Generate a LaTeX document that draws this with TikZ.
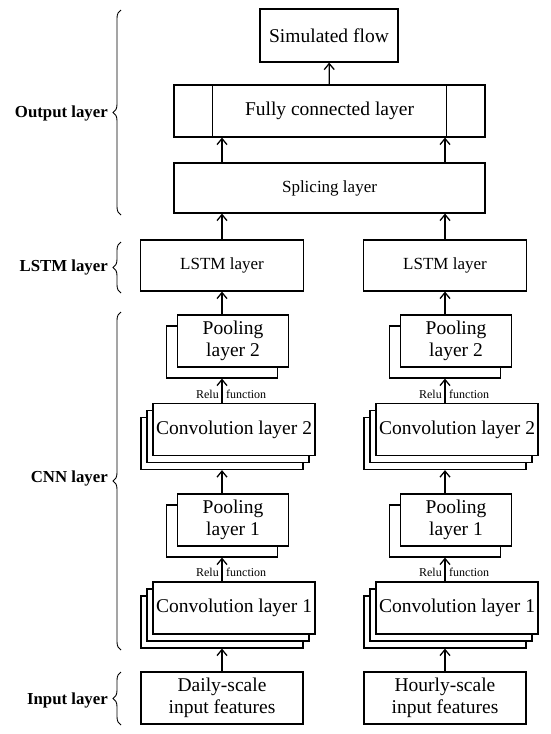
\documentclass[tikz,border=0pt]{standalone}
\usepackage{fontspec}
\setmainfont{Liberation Serif}
\usetikzlibrary{arrows.meta,positioning,calc,decorations.pathreplacing}

\begin{document}
\begin{tikzpicture}[x=1pt,y=-1pt,>={Straight Barb[length=6pt,width=10pt]}]
\tikzstyle{blk}=[draw,line width=1.2pt,fill=white,inner sep=0pt,align=center,font=\fontsize{19.5}{22}\selectfont]
\tikzstyle{wide}=[minimum width=162,minimum height=52]
\tikzstyle{pool}=[minimum width=111,minimum height=52]
\tikzstyle{arr}=[->,line width=1.3pt]
\tikzstyle{tag}=[anchor=east,inner sep=0pt,font=\fontsize{16.8}{18}\selectfont\bfseries]
\tikzstyle{relu}=[inner sep=0pt,font=\fontsize{12}{14}\selectfont]
\tikzstyle{brc}=[decorate,decoration={brace,amplitude=8pt},line width=0.9pt]
\useasboundingbox (0,0) rectangle (550,734);

% output part
\node[blk,minimum width=138,minimum height=53] (sim) at (329,35.5) {Simulated flow};
\node[blk,minimum width=311,minimum height=52] (fc) at (329.5,111) {Fully connected layer};
\draw[line width=1.2pt] ([xshift=39]fc.north west) -- ([xshift=39]fc.south west)
    ([xshift=-39]fc.north east) -- ([xshift=-39]fc.south east);
\node[blk,minimum width=311,minimum height=50,font=\fontsize{17}{20}\selectfont] (sp) at (329.5,188) {Splicing layer};
\draw[arr] (fc) -- (sim);

% the two branches
\foreach \c/\dx/\txt in {L/0/Daily-scale,R/223/Hourly-scale}{
    \node[blk,wide] (in\c) at (222+\dx,698) {\txt\\input features};
    % convolution 1
    \node[blk,wide] (c1b\c) at (222+\dx,622) {};
    \node[blk,wide] (c1m\c) at (228+\dx,615) {};
    \node[blk,wide] (c1\c) at (234+\dx,608) {Convolution layer 1};
    % pooling 1
    \node[blk,pool] (p1b\c) at (222+\dx,531) {};
    \node[blk,pool] (p1\c) at (233+\dx,520) {Pooling\\layer 1};
    % convolution 2
    \node[blk,wide] (c2b\c) at (222+\dx,443.5) {};
    \node[blk,wide] (c2m\c) at (228+\dx,436.5) {};
    \node[blk,wide] (c2\c) at (234+\dx,429.5) {Convolution layer 2};
    % pooling 2
    \node[blk,pool] (p2b\c) at (222+\dx,352) {};
    \node[blk,pool] (p2\c) at (233+\dx,341) {Pooling\\layer 2};
    % lstm
    \node[blk,minimum width=163,minimum height=51,font=\fontsize{17}{20}\selectfont] (ls\c) at (222+\dx,265.5) {LSTM layer};
    % relu labels
    \node[relu,anchor=east] (r1a\c) at (219+\dx,572) {Relu};
    \node[relu,anchor=west] (r1b\c) at (226+\dx,572) {function};
    \node[relu,anchor=east] (r2a\c) at (219+\dx,394) {Relu};
    \node[relu,anchor=west] (r2b\c) at (226+\dx,394) {function};
    % arrows
    \draw[arr] (in\c) -- (c1b\c);
    \draw[arr] (c1\c.north -| p1b\c) -- (p1b\c);
    \draw[arr] (p1\c.north -| c2b\c) -- (c2b\c);
    \draw[arr] (c2\c.north -| p2b\c) -- (p2b\c);
    \draw[arr] (p2\c.north -| ls\c) -- (ls\c);
    \draw[arr] (ls\c) -- (ls\c |- sp.south);
    \draw[arr] (sp.north -| ls\c) -- (fc.south -| ls\c);
}

% braces and layer names
\draw[brc] (121,215) -- (121,10);
\draw[brc] (121,293) -- (121,242);
\draw[brc] (121,650) -- (121,312);
\draw[brc] (121,725) -- (121,672);
\node[tag] (tout) at (108,113) {Output layer};
\node[tag] (tlstm) at (108,267) {LSTM layer};
\node[tag] (tcnn) at (108,478) {CNN layer};
\node[tag] (tin) at (108,700) {Input layer};
\end{tikzpicture}
\end{document}
